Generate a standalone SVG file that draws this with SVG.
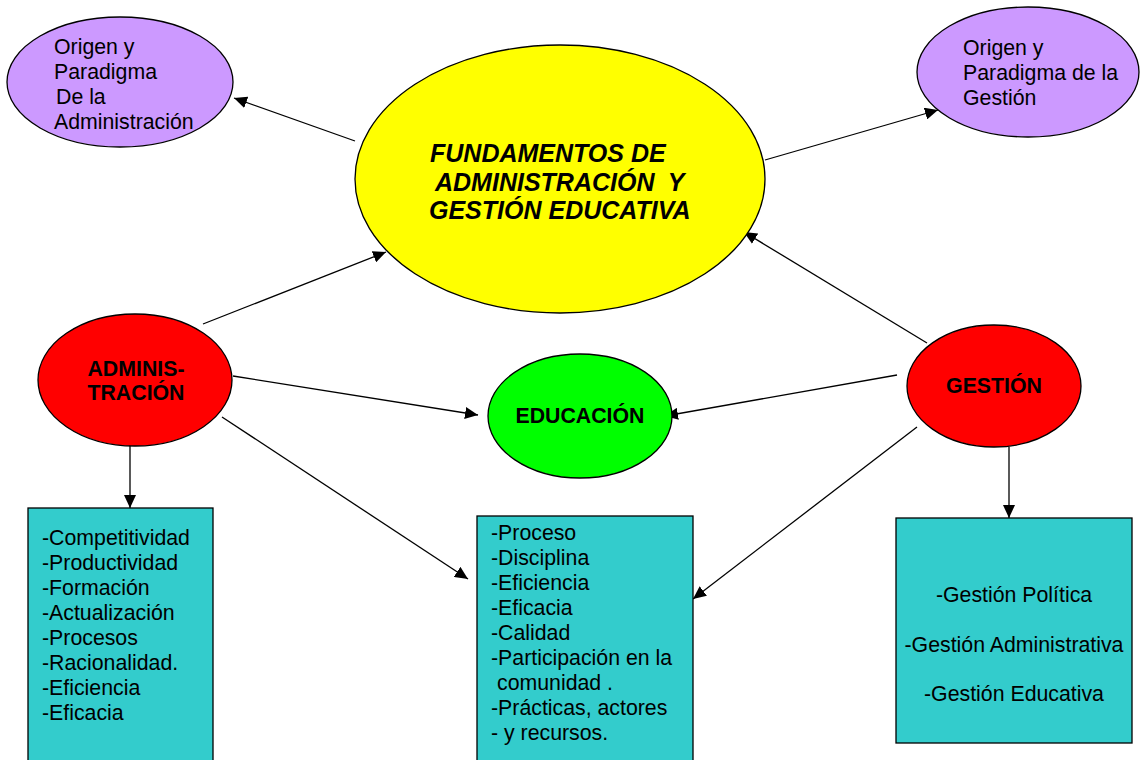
<svg xmlns="http://www.w3.org/2000/svg" width="1140" height="760" viewBox="0 0 1140 760">
<style>
.n{stroke:#000;stroke-width:1.3}
.t{font-family:"Liberation Sans",Arial,sans-serif;font-size:21.3px;fill:#000}
.b{font-weight:bold;font-size:21.3px}
.h{font-family:"Liberation Sans",Arial,sans-serif;font-size:25px;font-weight:bold;font-style:italic;fill:#000;white-space:pre}
.c{stroke:#000;stroke-width:1.3;fill:none;marker-end:url(#ah)}
</style>
<defs>
<marker id="ah" markerUnits="userSpaceOnUse" markerWidth="14" markerHeight="12" refX="13" refY="6" orient="auto">
<path d="M0,0 L13,6 L0,12 Z" fill="#000"/>
</marker>
</defs>
<rect width="1140" height="760" fill="#fff"/>
<g id="connectors">
<line class="c" x1="355" y1="141" x2="234" y2="98"/>
<line class="c" x1="765" y1="160" x2="938" y2="110"/>
<line class="c" x1="203" y1="324" x2="386" y2="252"/>
<line class="c" x1="927" y1="343" x2="744" y2="232"/>
<line class="c" x1="233" y1="376" x2="478" y2="415"/>
<line class="c" x1="897" y1="375" x2="665" y2="416"/>
<line class="c" x1="222" y1="417" x2="468" y2="579"/>
<line class="c" x1="917" y1="427" x2="693" y2="599"/>
<line class="c" x1="130" y1="427" x2="130" y2="508"/>
<line class="c" x1="1009" y1="447" x2="1009" y2="518"/>
</g>
<g id="origen-admin">
<ellipse class="n" cx="120" cy="82" rx="113" ry="65" fill="#CC99FF"/>
<text class="t" x="54" y="54">Origen y</text>
<text class="t" x="54" y="79">Paradigma</text>
<text class="t" x="56" y="104">De la</text>
<text class="t" x="54" y="129">Administración</text>
</g>
<g id="origen-gestion">
<ellipse class="n" cx="1028" cy="72" rx="111" ry="65" fill="#CC99FF"/>
<text class="t" x="963" y="55">Origen y</text>
<text class="t" x="963" y="80">Paradigma de la</text>
<text class="t" x="963" y="105">Gestión</text>
</g>
<g id="fundamentos">
<ellipse class="n" cx="560" cy="179" rx="205" ry="134" fill="#FFFF00"/>
<text class="h" x="430" y="162">FUNDAMENTOS DE</text>
<text class="h" x="435" y="191" xml:space="preserve">ADMINISTRACIÓN  Y</text>
<text class="h" x="429" y="219">GESTIÓN EDUCATIVA</text>
</g>
<g id="administracion">
<ellipse class="n" cx="135" cy="380" rx="97" ry="66" fill="#FF0000"/>
<text class="t b" x="136" y="376" text-anchor="middle">ADMINIS-</text>
<text class="t b" x="136" y="400" text-anchor="middle">TRACIÓN</text>
</g>
<g id="educacion">
<ellipse class="n" cx="580" cy="416" rx="92" ry="62" fill="#00FF00"/>
<text class="t b" x="580" y="423" text-anchor="middle">EDUCACIÓN</text>
</g>
<g id="gestion">
<ellipse class="n" cx="994" cy="386" rx="87" ry="61" fill="#FF0000"/>
<text class="t b" x="994" y="393" text-anchor="middle">GESTIÓN</text>
</g>
<g id="box-admin">
<rect class="n" x="28" y="508" width="185" height="262" fill="#33CCCC"/>
<text class="t" x="42" y="545">-Competitividad</text>
<text class="t" x="42" y="570">-Productividad</text>
<text class="t" x="42" y="595">-Formación</text>
<text class="t" x="42" y="620">-Actualización</text>
<text class="t" x="42" y="645">-Procesos</text>
<text class="t" x="42" y="670">-Racionalidad.</text>
<text class="t" x="42" y="695">-Eficiencia</text>
<text class="t" x="42" y="720">-Eficacia</text>
</g>
<g id="box-educacion">
<rect class="n" x="477" y="516" width="216" height="254" fill="#33CCCC"/>
<text class="t" x="491" y="540">-Proceso</text>
<text class="t" x="491" y="565">-Disciplina</text>
<text class="t" x="491" y="590">-Eficiencia</text>
<text class="t" x="491" y="615">-Eficacia</text>
<text class="t" x="491" y="640">-Calidad</text>
<text class="t" x="491" y="665">-Participación en la</text>
<text class="t" x="497" y="690">comunidad .</text>
<text class="t" x="491" y="715">-Prácticas, actores</text>
<text class="t" x="491" y="740">- y recursos.</text>
</g>
<g id="box-gestion">
<rect class="n" x="896" y="518" width="236" height="225" fill="#33CCCC"/>
<text class="t" x="1014" y="602" text-anchor="middle">-Gestión Política</text>
<text class="t" x="1014" y="652" text-anchor="middle">-Gestión Administrativa</text>
<text class="t" x="1014" y="701" text-anchor="middle">-Gestión Educativa</text>
</g>
</svg>
